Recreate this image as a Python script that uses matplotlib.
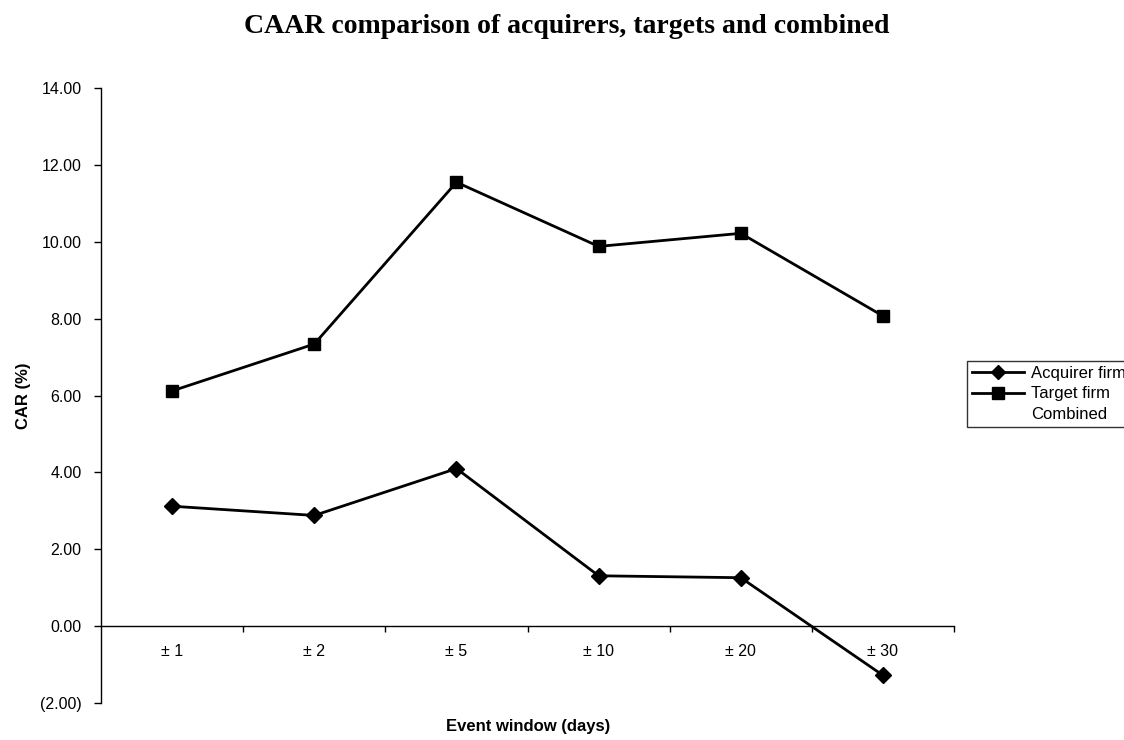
import matplotlib
matplotlib.use("Agg")
import matplotlib.pyplot as plt
from matplotlib.ticker import FixedLocator, FuncFormatter
from matplotlib.lines import Line2D

# Cumulative average abnormal returns (%) per event window.
windows = ["± 1", "± 2", "± 5", "± 10", "± 20", "± 30"]
acquirer_car = [3.12, 2.88, 4.10, 1.31, 1.26, -1.28]
target_car = [6.12, 7.34, 11.55, 9.88, 10.22, 8.07]

plt.rcParams["font.family"] = ["Liberation Sans", "DejaVu Sans"]

fig = plt.figure(figsize=(11.24, 7.4), dpi=100)
ax = fig.add_axes([0.0899, 0.05, 0.7589, 0.831])

x = list(range(len(windows)))
ax.plot(x, acquirer_car, color="black", linewidth=2.0, marker="D",
        markersize=8, label="Acquirer firm")
ax.plot(x, target_car, color="black", linewidth=2.0, marker="s",
        markersize=9, label="Target firm")

ax.set_xlim(-0.5, len(windows) - 0.5)
ax.set_ylim(-2, 14)

# Excel-style axes: category axis crossing at zero, no frame
ax.spines["top"].set_visible(False)
ax.spines["right"].set_visible(False)
ax.spines["bottom"].set_position(("data", 0))
ax.spines["bottom"].set_linewidth(1.0)
ax.spines["left"].set_linewidth(1.0)

# tick marks between categories, labels at category centres
ax.xaxis.set_major_locator(FixedLocator([i + 0.5 for i in x[:-1]] + [len(windows) - 0.5]))
ax.xaxis.set_major_formatter(FuncFormatter(lambda v, p: ""))
ax.xaxis.set_minor_locator(FixedLocator(x))
ax.set_xticklabels(windows, minor=True)
ax.tick_params(axis="x", which="major", direction="out", length=4, width=1)
ax.tick_params(axis="x", which="minor", length=0, pad=13, labelsize=11.5)

ax.set_yticks(range(-2, 15, 2))
ax.yaxis.set_major_formatter(
    FuncFormatter(lambda v, p: f"({abs(v):.2f})" if v < 0 else f"{v:.2f}"))
ax.tick_params(axis="y", direction="out", length=5, width=1, labelsize=11.5, pad=9)

fig.text(0.4698, 0.0189, "Event window (days)", ha="center", va="center",
         fontsize=12, fontweight="bold")
fig.text(0.0205, 0.465, "CAR (%)", ha="center", va="center", rotation=90,
         fontsize=12, fontweight="bold")
fig.text(0.504, 0.9645, "CAAR comparison of acquirers, targets and combined",
         ha="center", va="center", fontsize=20, fontweight="bold",
         family=["Liberation Serif", "DejaVu Serif"])

handles, labels = ax.get_legend_handles_labels()
handles.append(Line2D([], [], color="none"))
labels.append("Combined")
leg = fig.legend(handles, labels, loc="center left",
                 bbox_to_anchor=(967 / 1124, 1 - 394 / 740),
                 frameon=True, fancybox=False, edgecolor="black",
                 fontsize=12, handlelength=3.1, handletextpad=0.42,
                 labelspacing=0.35, borderpad=0.3, borderaxespad=0,
                 markerscale=0.9)
leg.get_frame().set_linewidth(1.0)

fig.savefig("out.png", dpi=100)
